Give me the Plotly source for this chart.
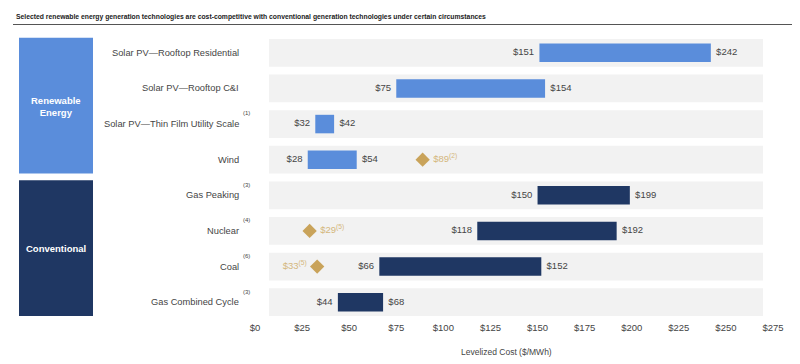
import plotly.graph_objects as go

# ---------------- data ----------------
categories = [
    "Solar PV\u2014Rooftop Residential",
    "Solar PV\u2014Rooftop C&I",
    "Solar PV\u2014Thin Film Utility Scale",
    "Wind",
    "Gas Peaking",
    "Nuclear",
    "Coal",
    "Gas Combined Cycle",
]
footnotes = ["", "", "(1)", "", "(3)", "(4)", "(6)", "(3)"]
low_values = [151, 75, 32, 28, 150, 118, 66, 44]
high_values = [242, 154, 42, 54, 199, 192, 152, 68]
groups = ["Renewable", "Renewable", "Renewable", "Renewable",
          "Conventional", "Conventional", "Conventional", "Conventional"]

marker_categories = ["Wind", "Nuclear", "Coal"]
marker_values = [89, 29, 33]
marker_notes = ["(2)", "(5)", "(5)"]

x_ticks = [0, 25, 50, 75, 100, 125, 150, 175, 200, 225, 250, 275]
title_text = ("Selected renewable energy generation technologies are cost-competitive "
              "with conventional generation technologies under certain circumstances")
x_title = "Levelized Cost ($/MWh)"

# ---------------- styles ----------------
BLUE = "#5A8DDB"
NAVY = "#1F3763"
GOLD = "#C9A35A"
GOLD_TXT = "#D4B77C"
TXT = "#454545"
BAND = "#F2F2F2"
FONT = "Liberation Sans, Arial, sans-serif"

OFF = 8  # page body margin
W, H = 800 - OFF, 364 - OFF
L = 255 - OFF
R = 27
T = 34.5 - OFF
B = H - (319.9 - OFF)
PW = W - L - R
PH = H - T - B

def px(xpix):
    return (xpix - OFF - L) / PW

def py(ypix):
    return 1 - ((ypix - OFF) - T) / PH

color_map = {"Renewable": BLUE, "Conventional": NAVY}
bar_colors = [color_map[g] for g in groups]
spans = [h - l for l, h in zip(low_values, high_values)]

fig = go.Figure()

fig.add_trace(go.Bar(
    y=categories, x=spans, base=low_values, orientation="h",
    marker=dict(color=bar_colors, line=dict(width=0)),
    width=0.52, showlegend=False, hoverinfo="skip",
))

# value labels
fig.add_trace(go.Scatter(
    y=categories, x=low_values, mode="text",
    text=[f"${v}  " for v in low_values], textposition="middle left",
    textfont=dict(size=9.5, color=TXT, family=FONT),
    showlegend=False, hoverinfo="skip",
))
fig.add_trace(go.Scatter(
    y=categories, x=high_values, mode="text",
    text=[f"  ${v}" for v in high_values], textposition="middle right",
    textfont=dict(size=9.5, color=TXT, family=FONT),
    showlegend=False, hoverinfo="skip",
))

# diamonds
positions = ["middle right", "middle right", "middle left"]
fig.add_trace(go.Scatter(
    y=marker_categories, x=marker_values, mode="markers+text",
    marker=dict(symbol="diamond", size=11, color=GOLD),
    text=[(f" ${v}<sup>{n}</sup>" if p == "middle right" else f"${v}<sup>{n}</sup> ")
          for v, n, p in zip(marker_values, marker_notes, positions)],
    textposition=positions,
    textfont=dict(size=9.5, color=GOLD_TXT, family=FONT),
    showlegend=False, hoverinfo="skip",
))

shapes = []
annotations = []
for i, cat in enumerate(categories):
    shapes.append(dict(type="rect", xref="paper", yref="y",
                       x0=px(269), x1=px(763), y0=i - 0.39, y1=i + 0.39,
                       fillcolor=BAND, line=dict(width=0), layer="below"))
    annotations.append(dict(xref="paper", yref="y", x=px(241), y=i,
                            text=cat, showarrow=False, xanchor="right", yanchor="middle",
                            font=dict(size=9.3, color=TXT, family=FONT)))
    if footnotes[i]:
        annotations.append(dict(xref="paper", yref="y", x=px(240.5), y=i - 0.3,
                                text=footnotes[i], showarrow=False, xanchor="left",
                                yanchor="middle",
                                font=dict(size=6, color=TXT, family=FONT)))

# group boxes
shapes.append(dict(type="rect", xref="paper", yref="y", x0=px(19), x1=px(93),
                   y0=-0.42, y1=3.39, fillcolor=BLUE, line=dict(width=0)))
shapes.append(dict(type="rect", xref="paper", yref="y", x0=px(19), x1=px(93),
                   y0=3.58, y1=7.39, fillcolor=NAVY, line=dict(width=0)))
annotations.append(dict(xref="paper", yref="y", x=px(56), y=1.5, xanchor="center",
                        yanchor="middle", text="<b>Renewable<br>Energy</b>", showarrow=False,
                        font=dict(size=9.5, color="white", family=FONT)))
annotations.append(dict(xref="paper", yref="y", x=px(56), y=5.5, xanchor="center",
                        yanchor="middle", text="<b>Conventional</b>", showarrow=False,
                        font=dict(size=9.5, color="white", family=FONT)))

# title + rule
annotations.append(dict(xref="paper", yref="paper", x=px(14), y=py(16),
                        text=f"<b>{title_text}</b>", showarrow=False,
                        xanchor="left", yanchor="middle",
                        font=dict(size=6.8, color="#222222", family=FONT)))
shapes.append(dict(type="line", xref="paper", yref="paper",
                   x0=px(13), x1=px(797), y0=py(24), y1=py(24),
                   line=dict(color="#555555", width=1)))

# axis title
annotations.append(dict(xref="paper", yref="paper", x=px(506), y=py(352),
                        text=x_title, showarrow=False, xanchor="center", yanchor="middle",
                        font=dict(size=8.5, color=TXT, family=FONT)))

fig.update_layout(
    width=W, height=H,
    margin=dict(l=L, r=R, t=T, b=B),
    paper_bgcolor="white", plot_bgcolor="white",
    xaxis=dict(range=[0, 275], tickvals=x_ticks, ticktext=[f"${v}" for v in x_ticks],
               showgrid=False, zeroline=False, showline=False,
               tickfont=dict(size=9.5, color=TXT, family=FONT), ticks=""),
    yaxis=dict(categoryorder="array", categoryarray=categories,
               range=[7.5, -0.5], showticklabels=False, showgrid=False,
               zeroline=False, showline=False),
    shapes=shapes, annotations=annotations,
    font=dict(family=FONT),
)

fig.write_html("out.html")
